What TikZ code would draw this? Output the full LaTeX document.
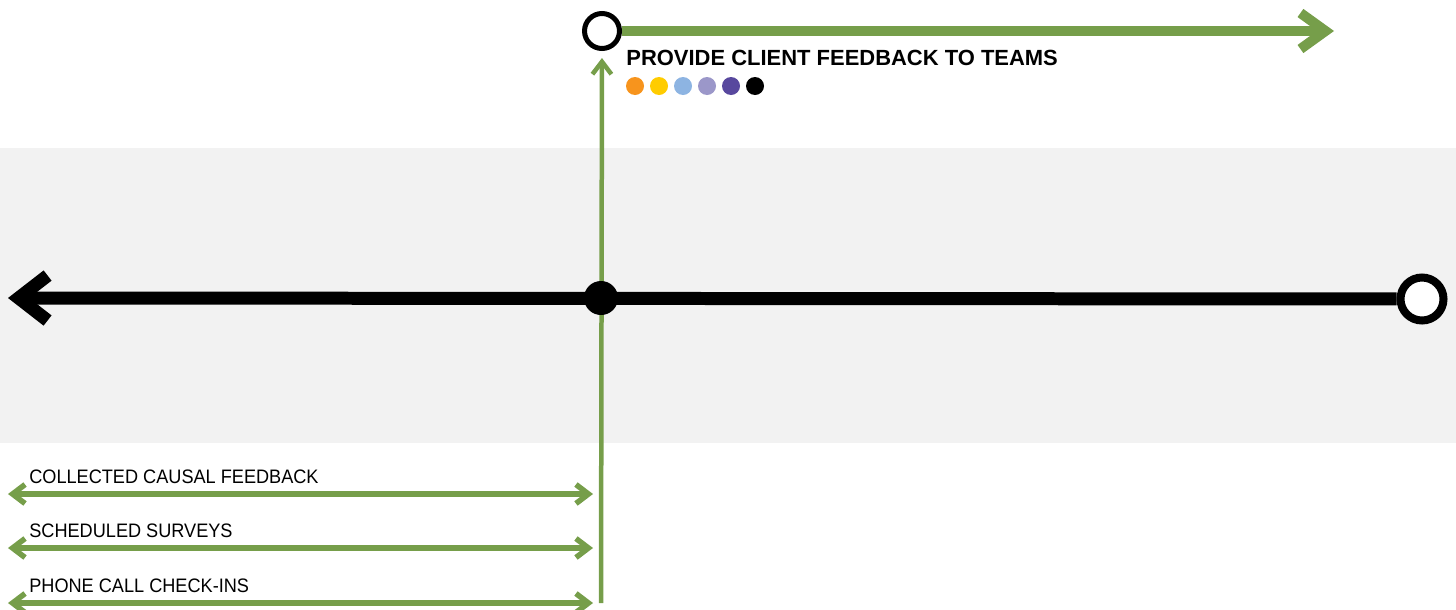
\documentclass[tikz,border=0pt]{standalone}
\usepackage{fontspec}
\setmainfont{Liberation Sans}
\newfontfamily\rowfont[FakeStretch=0.93]{Liberation Sans}
\usetikzlibrary{arrows.meta, positioning}

\definecolor{fbgreen}{RGB}{118,158,74}
\definecolor{bandgray}{RGB}{242,242,242}
\definecolor{dotorange}{RGB}{247,148,29}
\definecolor{dotyellow}{RGB}{255,204,0}
\definecolor{dotblue}{RGB}{141,180,226}
\definecolor{dotlilac}{RGB}{155,151,201}
\definecolor{dotpurple}{RGB}{88,72,158}

\pgfdeclarelayer{band}
\pgfdeclarelayer{lines}
\pgfsetlayers{band,lines,main}

\tikzset{
  hub/.style={circle, fill=black, inner sep=0, minimum size=0.68cm},
  ring/.style={circle, draw=black, fill=white, inner sep=0},
  dot/.style={circle, inner sep=0, minimum size=0.36cm},
  mainline/.style={line width=0.26cm, black, -{Straight Barb[sharp, length=0.58cm, width=0.9cm]}},
  loopline/.style={line width=0.2cm, fbgreen, -{Straight Barb[sharp, length=0.5cm, width=0.72cm]}},
  feedline/.style={line width=0.09cm, fbgreen, -{Straight Barb[sharp, length=0.25cm, width=0.38cm]}},
  rowline/.style={line width=0.11cm, fbgreen, {Straight Barb[sharp, length=0.25cm, width=0.38cm]}-{Straight Barb[sharp, length=0.25cm, width=0.38cm]}},
  rowlabel/.style={anchor=base west, inner sep=0, font=\rowfont\fontsize{11.1pt}{13pt}\selectfont},
}

\begin{document}
\begin{tikzpicture}[x=0.02cm, y=-0.02cm]
  \useasboundingbox (0,0) rectangle (1456,609);
  \begin{pgfonlayer}{band}
    \fill[bandgray] (0,148) rectangle (1456,443);
  \end{pgfonlayer}

  % timeline
  \node[hub] (now) at (601,298) {};
  \node[ring, line width=0.16cm, minimum size=0.86cm] (future) at (1422,299) {};
  \coordinate (past) at (8,298);

  % feedback loop
  \node[ring, line width=0.1cm, minimum size=0.7cm] (loop) at (602,31) {};
  \coordinate (loopEnd) at (1334,31);
  \coordinate (foot) at (601,603);
  \node[anchor=base west, inner sep=0, font=\bfseries\fontsize{12.5pt}{14pt}\selectfont] (title) at (626,65) {PROVIDE CLIENT FEEDBACK TO TEAMS};
  \foreach \c [count=\i] in {dotorange,dotyellow,dotblue,dotlilac,dotpurple,black}
    \node[dot, fill=\c] (dot\i) at ({611+24*\i},86) {};

  \begin{pgfonlayer}{lines}
    \draw[mainline] (future) -- (past);
    \draw[feedline, shorten >=0.14cm] (foot) -- (loop);
    \draw[loopline] (loop) -- (loopEnd);
  \end{pgfonlayer}

  % inputs
  \foreach \i/\y/\txt in {1/494/COLLECTED CAUSAL FEEDBACK, 2/548/SCHEDULED SURVEYS, 3/603/PHONE CALL CHECK-INS} {
    \coordinate (src\i) at (8,\y);
    \coordinate (dst\i) at (593,\y);
    \node[rowlabel] (row\i) at (29,{\y-11}) {\txt};
    \draw[rowline] (src\i) -- (dst\i);
  }
\end{tikzpicture}
\end{document}
